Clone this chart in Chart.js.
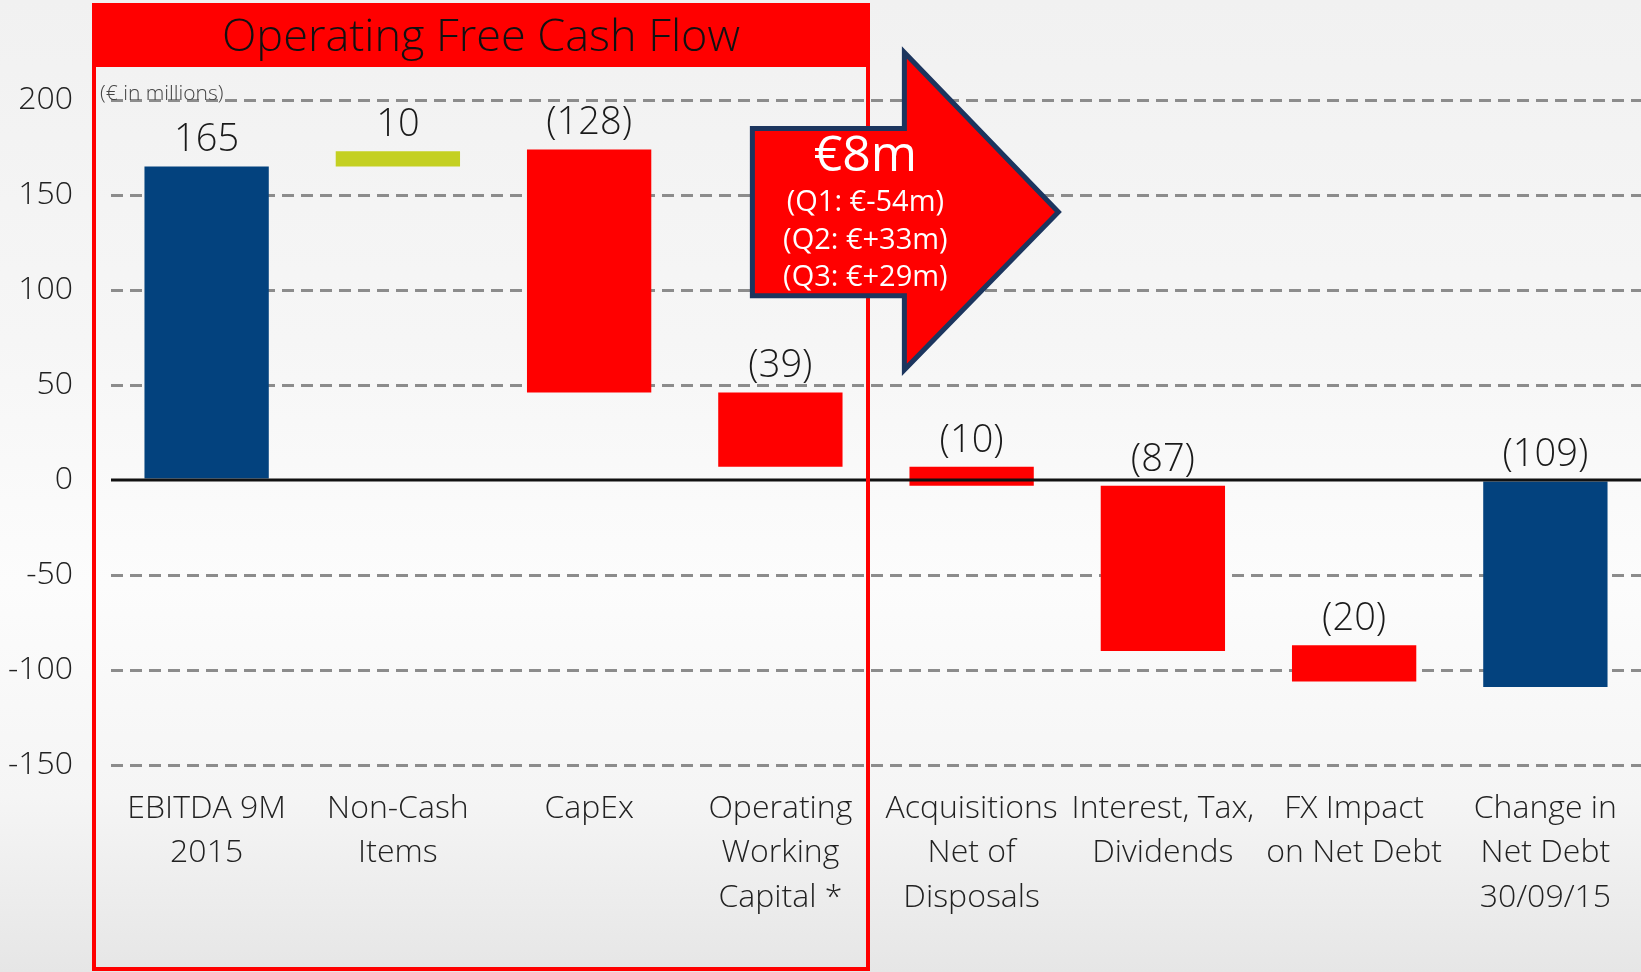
<!DOCTYPE html>
<html>
<head>
<meta charset="utf-8">
<script src="https://cdn.jsdelivr.net/npm/chart.js@4.4.1/dist/chart.umd.min.js"></script>
<style>
  html, body { margin: 0; padding: 0; }
  body {
    width: 1641px; height: 972px; overflow: hidden;
    background: linear-gradient(to bottom, #f1f1f1 0%, #f6f6f6 35%, #fcfcfc 60%, #f5f5f5 82%, #e6e6e6 100%);
  }
</style>
</head>
<body>
<canvas id="myChart" width="1641" height="972"></canvas>
<script>
// categorias (multilinea)
const categorias = [
  ["EBITDA 9M", "2015"],
  ["Non-Cash", "Items"],
  ["CapEx"],
  ["Operating", "Working", "Capital *"],
  ["Acquisitions", "Net of", "Disposals"],
  ["Interest, Tax,", "Dividends"],
  ["FX Impact", "on Net Debt"],
  ["Change in", "Net Debt", "30/09/15"]
];

// inicio y fin de cada barra (waterfall)
const inicio = [0, 165, 46, 7, -3, -90, -106, -109];
const fin = [165, 173, 174, 46, 7, -3, -87, 0];

// etiquetas sobre las barras
const etiquetas = ["165", "10", "(128)", "(39)", "(10)", "(87)", "(20)", "(109)"];

const tipo = ["total", "up", "down", "down", "down", "down", "down", "total"];

// eje y
const yMin = -150;
const yMax = 200;
const yPaso = 50;

const FUENTE = '"Open Sans", "DejaVu Sans", sans-serif';
const colores = { total: "#03427e", up: "#c4d022", down: "#ff0000" };

const datos = inicio.map((v, i) => [v, fin[i]]);

// dibuja etiquetas, linea cero, marco y flecha
const decoraciones = {
  id: "decoraciones",
  afterDatasetsDraw(chart) {
    const ctx = chart.ctx;
    const x = chart.scales.x;
    const y = chart.scales.y;
    const meta = chart.getDatasetMeta(0);

    // linea del cero
    const y0 = y.getPixelForValue(0);
    ctx.save();
    ctx.strokeStyle = "#111";
    ctx.lineWidth = 3;
    ctx.beginPath();
    ctx.moveTo(x.left, y0);
    ctx.lineTo(x.right, y0);
    ctx.stroke();

    // etiquetas de valor
    ctx.fillStyle = "#1a1a1a";
    ctx.font = "300 38px " + FUENTE;
    ctx.textAlign = "center";
    ctx.textBaseline = "middle";
    meta.data.forEach((bar, i) => {
      const arriba = Math.min(bar.y, bar.base);
      ctx.fillText(etiquetas[i], bar.x, arriba - 26);
    });

    // marco "Operating Free Cash Flow"
    const anchoCat = x.getPixelForValue(1) - x.getPixelForValue(0);
    const izq = x.left - 17;
    const der = x.getPixelForValue(3) + anchoCat / 2 - 8;
    ctx.fillStyle = "#ff0000";
    ctx.fillRect(izq - 2, 3, der - izq + 4, 64);
    ctx.strokeStyle = "#ff0000";
    ctx.lineWidth = 4;
    ctx.strokeRect(izq, 5, der - izq, 964);

    ctx.fillStyle = "#111";
    ctx.font = "300 45px " + FUENTE;
    ctx.fillText("Operating Free Cash Flow", (izq + der) / 2, 38);

    ctx.fillStyle = "#444";
    ctx.font = "300 21px " + FUENTE;
    ctx.textAlign = "left";
    ctx.fillText("(\u20ac in millions)", izq + 6, 94);

    // flecha
    const c3 = x.getPixelForValue(3);
    const xa = c3 - 28, xb = c3 + 124, xt = c3 + 278;
    const ySup = y.getPixelForValue(185), yInf = y.getPixelForValue(97);
    const yCabSup = y.getPixelForValue(225), yCabInf = y.getPixelForValue(58);
    const yPunta = y.getPixelForValue(141);
    ctx.beginPath();
    ctx.moveTo(xa, ySup);
    ctx.lineTo(xb, ySup);
    ctx.lineTo(xb, yCabSup);
    ctx.lineTo(xt, yPunta);
    ctx.lineTo(xb, yCabInf);
    ctx.lineTo(xb, yInf);
    ctx.lineTo(xa, yInf);
    ctx.closePath();
    ctx.fillStyle = "#ff0000";
    ctx.fill();
    ctx.strokeStyle = "#1c355e";
    ctx.lineWidth = 5;
    ctx.lineJoin = "miter";
    ctx.stroke();

    ctx.fillStyle = "#fff";
    ctx.textAlign = "center";
    const xc = xa + 113;
    ctx.font = "50px " + FUENTE;
    ctx.fillText("\u20ac8m", xc, ySup + 28);
    ctx.font = "29px " + FUENTE;
    ctx.fillText("(Q1: \u20ac-54m)", xc, ySup + 74);
    ctx.fillText("(Q2: \u20ac+33m)", xc, ySup + 112);
    ctx.fillText("(Q3: \u20ac+29m)", xc, ySup + 149);
    ctx.restore();
  }
};

const config = {
  type: "bar",
  data: {
    labels: categorias,
    datasets: [
      {
        data: datos,
        backgroundColor: tipo.map((t) => colores[t]),
        borderWidth: 0,
        categoryPercentage: 1,
        barPercentage: 0.65
      }
    ]
  },
  options: {
    responsive: false,
    animation: false,
    layout: { padding: { top: 100, left: 0, right: 0, bottom: 0 } },
    plugins: { legend: { display: false }, tooltip: { enabled: false } },
    scales: {
      x: {
        grid: { display: false },
        border: { display: false },
        ticks: {
          color: "#222",
          font: { family: FUENTE, size: 32, weight: 300, lineHeight: 1.38 },
          padding: 14,
          maxRotation: 0,
          autoSkip: false
        },
        afterFit: (s) => { s.height = 207; }
      },
      y: {
        min: yMin,
        max: yMax,
        ticks: {
          stepSize: yPaso,
          color: "#222",
          font: { family: FUENTE, size: 32, weight: 300 },
          padding: 38
        },
        grid: {
          color: (c) => (c.tick && c.tick.value === 0 ? "rgba(0,0,0,0)" : "#8c8c8c"),
          lineWidth: 3,
          drawTicks: false
        },
        border: { display: false, dash: [12, 7] },
        afterFit: (s) => { s.width = 111; }
      }
    }
  },
  plugins: [decoraciones]
};

const chartInstance = new Chart(document.getElementById("myChart"), config);
</script>
</body>
</html>
